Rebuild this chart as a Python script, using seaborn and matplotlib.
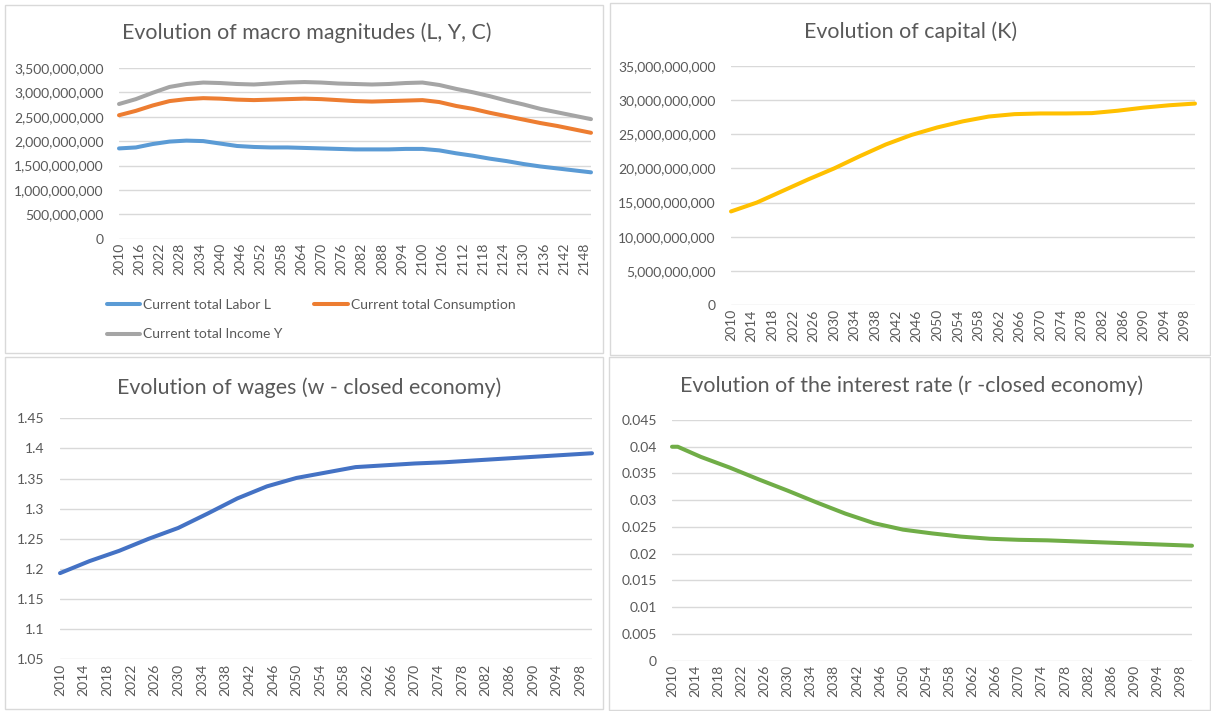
import numpy as np
import pandas as pd
import matplotlib
matplotlib.use("Agg")
import matplotlib.pyplot as plt
from matplotlib.patches import Rectangle
from matplotlib.ticker import FuncFormatter, FixedLocator
import seaborn as sns

# ---- data (values in billions for the aggregates) ----
macro_years = [2010, 2015, 2020, 2025, 2030, 2035, 2040, 2045, 2050, 2055,
               2060, 2065, 2070, 2075, 2080, 2085, 2090, 2095, 2100, 2105,
               2110, 2115, 2120, 2125, 2130, 2135, 2140, 2145, 2150]
labor_L = [1.85, 1.87, 1.94, 1.99, 2.01, 2.00, 1.95, 1.90, 1.88, 1.87,
           1.87, 1.86, 1.85, 1.84, 1.83, 1.83, 1.83, 1.84, 1.84, 1.81,
           1.75, 1.70, 1.64, 1.59, 1.53, 1.48, 1.44, 1.40, 1.36]
consumption_C = [2.53, 2.62, 2.73, 2.82, 2.86, 2.88, 2.87, 2.85, 2.84, 2.85,
                 2.86, 2.87, 2.86, 2.84, 2.82, 2.81, 2.82, 2.83, 2.84, 2.80,
                 2.72, 2.66, 2.58, 2.51, 2.44, 2.37, 2.31, 2.24, 2.17]
income_Y = [2.76, 2.86, 2.99, 3.11, 3.17, 3.20, 3.19, 3.17, 3.16, 3.18,
            3.20, 3.21, 3.20, 3.18, 3.17, 3.16, 3.17, 3.19, 3.20, 3.15,
            3.07, 3.00, 2.92, 2.83, 2.75, 2.66, 2.59, 2.52, 2.45]
macro_labels = ["Current total Labor L", "Current total Consumption",
                "Current total Income Y"]

years_100 = [2010, 2015, 2020, 2025, 2030, 2035, 2040, 2045, 2050, 2055,
             2060, 2065, 2070, 2075, 2080, 2085, 2090, 2095, 2100]
capital_K = [13.7, 15.0, 16.7, 18.4, 20.0, 21.8, 23.5, 24.9, 26.0, 26.9,
             27.6, 27.95, 28.05, 28.05, 28.1, 28.45, 28.9, 29.25, 29.5]
wages_w = [1.193, 1.213, 1.230, 1.250, 1.268, 1.292, 1.317, 1.337, 1.351,
           1.360, 1.369, 1.372, 1.375, 1.377, 1.380, 1.383, 1.386, 1.389,
           1.392]
rate_years = [2010, 2011, 2015, 2020, 2025, 2030, 2035, 2040, 2045, 2050,
              2055, 2060, 2065, 2070, 2075, 2080, 2085, 2090, 2095, 2100]
interest_r = [0.0400, 0.0400, 0.0381, 0.0361, 0.0339, 0.0318, 0.0296,
              0.0275, 0.0257, 0.0245, 0.0238, 0.0232, 0.0228, 0.0226,
              0.0225, 0.0223, 0.0221, 0.0219, 0.0217, 0.0215]

titles = ["Evolution of macro magnitudes (L, Y, C)",
          "Evolution of capital (K)",
          "Evolution of wages (w - closed economy)",
          "Evolution of the interest rate (r -closed economy)"]

# ---- style ----
sns.set_style("white")
plt.rcParams["font.family"] = ["Lato", "DejaVu Sans"]
TXT = "#595959"
GRID = "#d9d9d9"
TICK_FS = 10
TITLE_FS = 15.4
LW = 2.9

W, H = 1211, 711
fig = plt.figure(figsize=(W / 100, H / 100), dpi=100)


def rect(x0, y0, x1, y1):
    return [x0 / W, 1 - y1 / H, (x1 - x0) / W, (y1 - y0) / H]


# chart frames
for (x0, y0, x1, y1) in [(5, 5, 603, 353), (610, 3, 1210, 355),
                         (5, 357, 603, 709), (609, 357, 1210, 710)]:
    fig.patches.append(Rectangle((x0 / W, 1 - y1 / H), (x1 - x0) / W,
                                 (y1 - y0) / H, transform=fig.transFigure,
                                 fill=False, edgecolor=GRID, lw=1))

ax1 = fig.add_axes(rect(119, 67.9, 591, 238.7))
ax2 = fig.add_axes(rect(731, 66, 1195, 305))
ax3 = fig.add_axes(rect(60, 418.3, 592, 659.3))
ax4 = fig.add_axes(rect(672, 420, 1192, 660.7))

# macro magnitudes
macro = pd.DataFrame({
    "year": macro_years * 3,
    "value": np.concatenate([labor_L, consumption_C, income_Y]) * 1e9,
    "series": np.repeat(macro_labels, len(macro_years)),
})
sns.lineplot(data=macro, x="year", y="value", hue="series",
             hue_order=macro_labels,
             palette=["#5B9BD5", "#ED7D31", "#A5A5A5"],
             linewidth=LW, ax=ax1, legend=False)

sns.lineplot(x=years_100, y=np.array(capital_K) * 1e9, color="#FFC000",
             linewidth=LW, ax=ax2)
sns.lineplot(x=years_100, y=wages_w, color="#4472C4", linewidth=LW, ax=ax3)
sns.lineplot(x=rate_years, y=interest_r, color="#70AD47", linewidth=LW,
             ax=ax4)

comma = FuncFormatter(lambda v, p: f"{v:,.0f}")
plain = FuncFormatter(lambda v, p: f"{round(v, 6):g}")

setup = [
    (ax1, (2010, 2150), np.arange(2010, 2150, 6), (0, 3.5e9), 0.5e9, comma),
    (ax2, (2010, 2100), np.arange(2010, 2100, 4), (0, 35e9), 5e9, comma),
    (ax3, (2010, 2100), np.arange(2010, 2100, 4), (1.05, 1.45), 0.05, plain),
    (ax4, (2010, 2100), np.arange(2010, 2100, 4), (0, 0.045), 0.005, plain),
]
for ax, xl, xt, yl, step, fmt in setup:
    ax.set_xlim(*xl)
    ax.set_ylim(*yl)
    ax.xaxis.set_major_locator(FixedLocator(xt))
    ax.set_yticks(np.arange(yl[0], yl[1] + step / 2, step))
    ax.yaxis.set_major_formatter(fmt)
    ax.set_xlabel("")
    ax.set_ylabel("")
    for s in ax.spines.values():
        s.set_visible(False)
    ax.grid(axis="y", color=GRID, lw=1)
    ax.grid(axis="x", visible=False)
    ax.set_axisbelow(True)
    ax.tick_params(axis="both", length=0, colors=TXT, labelsize=TICK_FS)
    ax.tick_params(axis="y", pad=11)
    ax.tick_params(axis="x", pad=3, labelrotation=90)
    ax.set_facecolor("none")
    for ln in ax.get_lines():
        ln.set_clip_on(False)
        ln.set_solid_capstyle("round")
        ln.set_solid_joinstyle("round")

for (cx, cy), t in zip([(307, 33), (911, 32), (309, 388), (912, 386)], titles):
    fig.text(cx / W, 1 - cy / H, t, ha="center", va="center",
             fontsize=TITLE_FS, color=TXT)

# legend laid out row by row: L, C on the first row, Y below
lines = ax1.get_lines()
order = [0, 2, 1]
leg = ax1.legend([lines[i] for i in order], [macro_labels[i] for i in order],
                 ncol=2, frameon=False, loc="upper left",
                 bbox_to_anchor=(107 / W, 1 - 299 / H),
                 bbox_transform=fig.transFigure, fontsize=TICK_FS,
                 handlelength=2.4, handletextpad=0.2, columnspacing=2.3,
                 labelspacing=1.25, borderaxespad=0, borderpad=0)
for txt in leg.get_texts():
    txt.set_color(TXT)

fig.savefig("out.png", dpi=100, facecolor="white")
